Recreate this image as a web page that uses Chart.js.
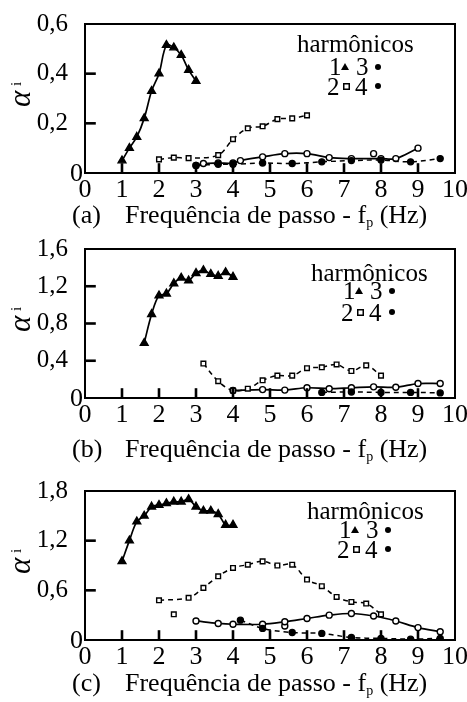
<!DOCTYPE html>
<html>
<head>
<meta charset="utf-8">
<script src="https://cdn.jsdelivr.net/npm/chart.js@4.4.0/dist/chart.umd.min.js"></script>
<style>
  html, body { margin: 0; padding: 0; background: #fff; }
  #wrap { position: relative; width: 467px; height: 702px; overflow: hidden; }
  canvas { position: absolute; left: 0; }
</style>
</head>
<body>
<div id="wrap">
  <canvas id="ca" width="467" height="245" style="top:0px"></canvas>
  <canvas id="cb" width="467" height="245" style="top:225px"></canvas>
  <canvas id="cc" width="467" height="245" style="top:467px"></canvas>
</div>
<script>
// valores (harmônicos 1..4)

// (a)
const a1x = [1.0, 1.2, 1.4, 1.6, 1.8, 2.0, 2.2, 2.4, 2.6, 2.8, 3.0];
const a1y = [0.05, 0.10, 0.145, 0.22, 0.33, 0.40, 0.515, 0.505, 0.475, 0.415, 0.37];
const a2x = [2.0, 2.4, 2.8, 3.6, 4.0, 4.4, 4.8, 5.2, 5.6, 6.0];
const a2y = [0.055, 0.062, 0.06, 0.072, 0.136, 0.18, 0.188, 0.217, 0.22, 0.232];
const a3x = [3.0, 3.2, 3.6, 4.0, 4.2, 4.8, 5.4, 6.0, 6.6, 7.2, 8.0, 8.4, 9.0];
const a3y = [0.03, 0.038, 0.04, 0.04, 0.05, 0.065, 0.078, 0.078, 0.062, 0.058, 0.058, 0.058, 0.10];
const a3ox = [7.8];
const a3oy = [0.078];
const a4x = [3.0, 3.6, 4.0, 4.8, 5.6, 6.4, 7.2, 8.0, 8.8, 9.6];
const a4y = [0.03, 0.035, 0.035, 0.04, 0.038, 0.045, 0.05, 0.052, 0.045, 0.058];

// (b)
const b1x = [1.6, 1.8, 2.0, 2.2, 2.4, 2.6, 2.8, 3.0, 3.2, 3.4, 3.6, 3.8, 4.0];
const b1y = [0.59, 0.90, 1.10, 1.12, 1.23, 1.29, 1.26, 1.34, 1.37, 1.33, 1.31, 1.35, 1.30];
const b2x = [3.2, 3.6, 4.0, 4.4, 4.8, 5.2, 5.6, 6.0, 6.4, 6.8, 7.2, 7.6, 8.0];
const b2y = [0.37, 0.18, 0.08, 0.10, 0.19, 0.24, 0.24, 0.32, 0.33, 0.36, 0.29, 0.35, 0.24];
const b3x = [4.0, 4.8, 5.4, 6.0, 6.6, 7.2, 7.8, 8.4, 9.0, 9.6];
const b3y = [0.08, 0.09, 0.085, 0.11, 0.10, 0.11, 0.12, 0.115, 0.155, 0.155];
const b4x = [6.4, 7.2, 8.0, 8.8, 9.6];
const b4y = [0.06, 0.065, 0.06, 0.06, 0.055];

// (c)
const c1x = [1.0, 1.2, 1.4, 1.6, 1.8, 2.0, 2.2, 2.4, 2.6, 2.8, 3.0, 3.2, 3.4, 3.6, 3.8, 4.0];
const c1y = [0.95, 1.20, 1.43, 1.50, 1.61, 1.63, 1.65, 1.67, 1.67, 1.70, 1.61, 1.56, 1.56, 1.52, 1.39, 1.39];
const c2x = [2.0, 2.8, 3.2, 3.6, 4.0, 4.4, 4.8, 5.2, 5.6, 6.0, 6.4, 6.8, 7.2, 7.6, 8.0];
const c2y = [0.48, 0.51, 0.63, 0.77, 0.87, 0.91, 0.95, 0.90, 0.91, 0.73, 0.65, 0.52, 0.46, 0.44, 0.31];
const c2ox = [2.4];
const c2oy = [0.31];
const c3x = [3.0, 3.6, 4.0, 4.8, 5.4, 6.0, 6.6, 7.2, 7.8, 8.4, 9.0, 9.6];
const c3y = [0.23, 0.20, 0.19, 0.19, 0.22, 0.26, 0.30, 0.32, 0.29, 0.23, 0.15, 0.10];
const c3ox = [5.4];
const c3oy = [0.17];
const c4x = [4.2, 4.8, 5.6, 6.4, 7.2, 8.0, 8.8, 9.6];
const c4y = [0.24, 0.14, 0.09, 0.08, 0.03, 0.02, 0.01, 0.02];

const xTicks = [0, 1, 2, 3, 4, 5, 6, 7, 8, 9, 10];

const SERIF = '"Liberation Serif", "Times New Roman", serif';

function pts(xs, ys) {
  return xs.map((x, i) => ({ x: x, y: ys[i] }));
}

// estilo de cada harmônico
function serie(xs, ys, n, semLinha) {
  const s = {
    data: pts(xs, ys),
    borderColor: '#000',
    pointBorderColor: '#000',
    pointBorderWidth: 1.4,
    tension: 0.35,
    showLine: !semLinha,
    borderWidth: 1.7
  };
  if (n === 1) { s.pointStyle = 'triangle'; s.pointRadius = 4.5; s.pointBackgroundColor = '#000'; }
  if (n === 2) { s.pointStyle = 'rect'; s.pointRadius = 3.3; s.pointBackgroundColor = '#fff'; s.borderDash = [5, 4]; s.borderWidth = 1.5; }
  if (n === 3) { s.pointStyle = 'circle'; s.pointRadius = 3; s.pointBackgroundColor = '#fff'; }
  if (n === 4) { s.pointStyle = 'circle'; s.pointRadius = 3; s.pointBackgroundColor = '#000'; s.borderDash = [5, 4]; s.borderWidth = 1.5; }
  return s;
}

// moldura do gráfico e marcas para dentro
const moldura = {
  id: 'moldura',
  afterDatasetsDraw(chart, args, o) {
    const ctx = chart.ctx;
    const ca = chart.chartArea;
    const w = ca.right - ca.left, h = ca.bottom - ca.top;
    const x0 = xTicks[0], x1 = xTicks[xTicks.length - 1];
    ctx.save();
    ctx.setLineDash([]);
    ctx.strokeStyle = '#000';
    ctx.lineWidth = 2;
    ctx.strokeRect(ca.left, ca.top, w, h);
    ctx.lineWidth = 1.6;
    for (let i = 1; i < xTicks.length - 1; i++) {
      let px = chart.scales.x.getPixelForValue(xTicks[i]);
      if (!isFinite(px)) px = ca.left + w * (xTicks[i] - x0) / (x1 - x0);
      ctx.strokeRect(px - 0.5, ca.bottom - 9, 1, 9);
    }
    for (let v = o.passo; v < o.ymax - 1e-9; v += o.passo) {
      let py = chart.scales.y.getPixelForValue(v);
      if (!isFinite(py)) py = ca.bottom - h * v / o.ymax;
      ctx.strokeRect(ca.left, py - 0.5, 10, 1);
    }
    ctx.restore();
  }
};

// textos: zero do eixo y, títulos e legenda
const deco = {
  id: 'deco',
  afterDraw(chart, args, o) {
    const ctx = chart.ctx;
    const ca = chart.chartArea;
    ctx.save();
    ctx.fillStyle = '#000';

    ctx.font = '26px ' + SERIF;
    ctx.textAlign = 'right';
    ctx.textBaseline = 'alphabetic';
    ctx.fillText('0', ca.left - 2, ca.bottom + 8);

    ctx.textAlign = 'left';
    ctx.fillText(o.letra, 72, o.tituloY);
    let tx = 125;
    const t1 = 'Frequência de passo - f';
    ctx.fillText(t1, tx, o.tituloY);
    tx += ctx.measureText(t1).width;
    ctx.font = '14px ' + SERIF;
    ctx.fillText('p', tx, o.tituloY + 4);
    tx += ctx.measureText('p').width;
    ctx.font = '26px ' + SERIF;
    ctx.fillText(' (Hz)', tx, o.tituloY);

    ctx.save();
    ctx.translate(30, 107);
    ctx.rotate(-Math.PI / 2);
    ctx.font = 'italic 31px ' + SERIF;
    ctx.fillText('α', 0, 0);
    ctx.font = '15px ' + SERIF;
    ctx.fillText('i', 21, -9);
    ctx.restore();

    const ox = o.legX;
    ctx.font = '25px ' + SERIF;
    ctx.fillText('harmônicos', ox - 33, o.legY[0]);
    ctx.fillText('1', ox - 1, o.legY[1]);
    ctx.fillText('3', ox + 26, o.legY[1]);
    ctx.fillText('2', ox - 3, o.legY[2]);
    ctx.fillText('4', ox + 25, o.legY[2]);
    const r1 = o.legY[1] - 8, r2 = o.legY[2] - 9;
    ctx.beginPath();
    ctx.moveTo(ox + 15, r1 - 4); ctx.lineTo(ox + 19, r1 + 3); ctx.lineTo(ox + 11, r1 + 3); ctx.closePath();
    ctx.fill();
    ctx.beginPath(); ctx.arc(ox + 48, r1, 3, 0, Math.PI * 2); ctx.fill();
    ctx.fillRect(ox + 13, r2 - 3, 7, 7);
    ctx.fillStyle = '#fff';
    ctx.fillRect(ox + 14.5, r2 - 1.5, 4, 4);
    ctx.fillStyle = '#000';
    ctx.beginPath(); ctx.arc(ox + 48, r2, 3, 0, Math.PI * 2); ctx.fill();

    ctx.restore();
  }
};

function painel(id, datasets, ymax, passo, extra) {
  new Chart(document.getElementById(id), {
    type: 'scatter',
    data: { datasets: datasets },
    plugins: [moldura, deco],
    options: {
      responsive: false,
      animation: false,
      layout: { padding: { left: 0, right: 12, top: 24, bottom: 0 } },
      plugins: {
        legend: { display: false },
        tooltip: { enabled: false },
        moldura: { ymax: ymax, passo: passo },
        deco: extra
      },
      scales: {
        x: {
          type: 'linear', min: 0, max: 10,
          afterBuildTicks: s => { s.ticks = xTicks.map(v => ({ value: v })); },
          ticks: { color: '#000', font: { family: SERIF, size: 26 }, padding: 2, maxRotation: 0, autoSkip: false },
          grid: { display: false, drawTicks: false },
          border: { display: false },
          afterFit: s => { s.height = 72; s.paddingLeft = 0; s.paddingRight = 0; }
        },
        y: {
          min: 0, max: ymax,
          ticks: {
            stepSize: passo, color: '#000', font: { family: SERIF, size: 25 }, padding: 17,
            callback: v => v === 0 ? '' : v.toFixed(1).replace('.', ',')
          },
          grid: { display: false, drawTicks: false },
          border: { display: false },
          afterFit: s => { s.width = 85; s.paddingTop = 0; s.paddingBottom = 0; }
        }
      }
    }
  });
}

painel('ca', [
  serie(a1x, a1y, 1), serie(a2x, a2y, 2), serie(a4x, a4y, 4), serie(a3x, a3y, 3), serie(a3ox, a3oy, 3, true)
], 0.6, 0.2, { letra: '(a)', tituloY: 223, legX: 330, legY: [52, 75, 95] });

painel('cb', [
  serie(b1x, b1y, 1), serie(b2x, b2y, 2), serie(b4x, b4y, 4), serie(b3x, b3y, 3)
], 1.6, 0.4, { letra: '(b)', tituloY: 232, legX: 344, legY: [56, 74, 96] });

painel('cc', [
  serie(c1x, c1y, 1), serie(c2x, c2y, 2), serie(c2ox, c2oy, 2, true), serie(c4x, c4y, 4), serie(c3x, c3y, 3), serie(c3ox, c3oy, 3, true)
], 1.8, 0.6, { letra: '(c)', tituloY: 224, legX: 340, legY: [52, 71, 91] });
</script>
</body>
</html>
